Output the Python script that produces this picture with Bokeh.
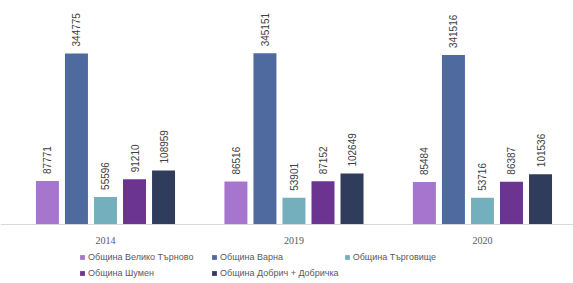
from math import pi
from bokeh.plotting import figure
from bokeh.models import (ColumnDataSource, Range1d, LabelSet, Legend,
                          LegendItem, Span)
from bokeh.core.properties import value
from bokeh.transform import dodge
from bokeh.embed import file_html
from bokeh.resources import INLINE

years = ["2014", "2019", "2020"]
municipalities = ["Община Велико Търново", "Община Варна", "Община Търговище",
                  "Община Шумен", "Община Добрич + Добричка"]
veliko_tarnovo = [87771, 86516, 85484]
varna = [344775, 345151, 341516]
targovishte = [55596, 53901, 53716]
shumen = [91210, 87152, 86387]
dobrich = [108959, 102649, 101536]
series = [veliko_tarnovo, varna, targovishte, shumen, dobrich]
colors = ["#a676cf", "#4e6a9f", "#74afbd", "#6b3491", "#2f3c5c"]

p = figure(width=573, height=283, output_backend="svg",
           toolbar_location=None,
           x_range=Range1d(-0.557, 2.483), y_range=Range1d(-118950, 451600),
           min_border=0)
p.background_fill_color = "white"
p.border_fill_color = "white"
p.outline_line_color = None
p.xgrid.visible = False
p.ygrid.visible = False
p.xaxis.visible = False
p.yaxis.visible = False

xs = list(range(len(years)))
offsets = [-0.308, -0.154, 0.0, 0.154, 0.308]
items = []
for name, vals, col, off in zip(municipalities, series, colors, offsets):
    src = ColumnDataSource(dict(x=xs, v=vals, t=[str(v) for v in vals]))
    r = p.vbar(x=dodge("x", off, range=p.x_range), top="v", width=0.122,
               source=src, fill_color=col, line_color=None)
    p.add_layout(LabelSet(x=dodge("x", off, range=p.x_range), y="v", text="t",
                          source=src, angle=pi / 2, y_offset=7,
                          text_align="left", text_baseline="middle",
                          text_font_size=value("10px"), text_color=value("#404040"),
                          text_font=value("Liberation Sans")))
    items.append(LegendItem(label=name, renderers=[r]))

# category axis: baseline and year labels
p.add_layout(Span(location=0, dimension="width", line_color="#d9d9d9",
                  line_width=1))
ysrc = ColumnDataSource(dict(x=xs, y=[0] * len(xs), t=years))
p.add_layout(LabelSet(x="x", y="y", text="t", source=ysrc, y_offset=-16,
                      text_align="center", text_baseline="middle",
                      text_font_size=value("10px"), text_color=value("#595959"),
                      text_font=value("Liberation Serif")))

legend = Legend(items=items, location=(79, 5), orientation="horizontal",
                ncols=3, padding=0, margin=0, spacing=5,
                glyph_width=6, glyph_height=6, label_standoff=3,
                label_width=118, label_height=11, label_text_font_size="9px",
                label_text_color="#595959", label_text_font="Liberation Sans",
                border_line_color=None, background_fill_alpha=0)
p.add_layout(legend, "center")

open("out.html", "w").write(file_html(p, INLINE))
